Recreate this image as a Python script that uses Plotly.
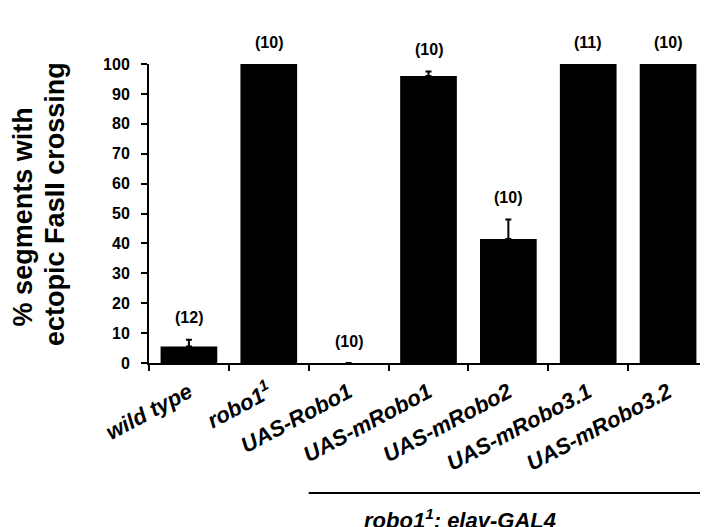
import plotly.graph_objects as go

categories = ["wild type", "robo1<sup>1</sup>", "UAS-Robo1", "UAS-mRobo1",
              "UAS-mRobo2", "UAS-mRobo3.1", "UAS-mRobo3.2"]
values = [5.5, 100, 0, 96.0, 41.5, 100, 100]
errors = [2.3, 0, 0, 1.5, 6.5, 0, 0]
n_labels = ["(12)", "(10)", "(10)", "(10)", "(10)", "(11)", "(10)"]
y_ticks = [0, 10, 20, 30, 40, 50, 60, 70, 80, 90, 100]
group_label = "robo1<sup>1</sup>; elav-GAL4"
y_title_lines = ["% segments with", "ectopic FasII crossing"]

FONT = "Liberation Sans, Arial, sans-serif"

fig = go.Figure()
fig.add_trace(go.Bar(
    x=categories, y=values,
    marker=dict(color="black", line=dict(width=0)),
    width=0.71,
    error_y=dict(type="data", symmetric=False, array=errors,
                 arrayminus=[0] * len(errors), color="black",
                 thickness=2, width=3),
    showlegend=False,
))

for c, v, e, t in zip(categories, values, errors, n_labels):
    fig.add_annotation(x=c, y=v + e, text=t, showarrow=False,
                       yanchor="middle", yshift=22,
                       font=dict(family=FONT, size=16, color="black", weight="bold"))

# y-axis title: two rotated lines
for txt, px, py in zip(y_title_lines, [-0.2254, -0.1682], [0.487, 0.532]):
    fig.add_annotation(xref="paper", yref="paper", x=px, y=py,
                       text=txt, textangle=-90, showarrow=False,
                       xanchor="center", yanchor="middle",
                       font=dict(family=FONT, size=27, color="black", weight="bold"))

# group underline and label
fig.add_shape(type="line", xref="x", yref="paper", x0=1.5, x1=6.46,
              y0=-0.435, y1=-0.435, line=dict(color="black", width=2))
fig.add_annotation(xref="x", yref="paper", x=3.394, y=-0.522, text=group_label,
                   showarrow=False, yanchor="middle",
                   font=dict(family=FONT, size=22, color="black",
                             weight="bold", style="italic"))

fig.update_layout(
    width=700, height=519,
    margin=dict(l=141, r=0, t=56, b=164),
    plot_bgcolor="white", paper_bgcolor="white",
    xaxis=dict(
        type="category",
        range=[-0.5, 6.5],
        tickson="boundaries",
        tickangle=-28,
        tickfont=dict(family=FONT, size=22, color="black",
                      weight="bold", style="italic"),
        ticks="outside", ticklen=6, tickwidth=2, tickcolor="black",
        ticklabelstandoff=6,
        showline=True, linecolor="black", linewidth=2,
        showgrid=False, zeroline=False,
    ),
    yaxis=dict(
        range=[0, 100],
        tickmode="array", tickvals=y_ticks,
        ticks="outside", ticklen=6, tickwidth=2, tickcolor="black",
        ticklabelstandoff=8,
        tickfont=dict(family=FONT, size=16, color="black", weight="bold"),
        showline=True, linecolor="black", linewidth=2,
        showgrid=False, zeroline=False,
    ),
)

fig.write_html("out.html")
